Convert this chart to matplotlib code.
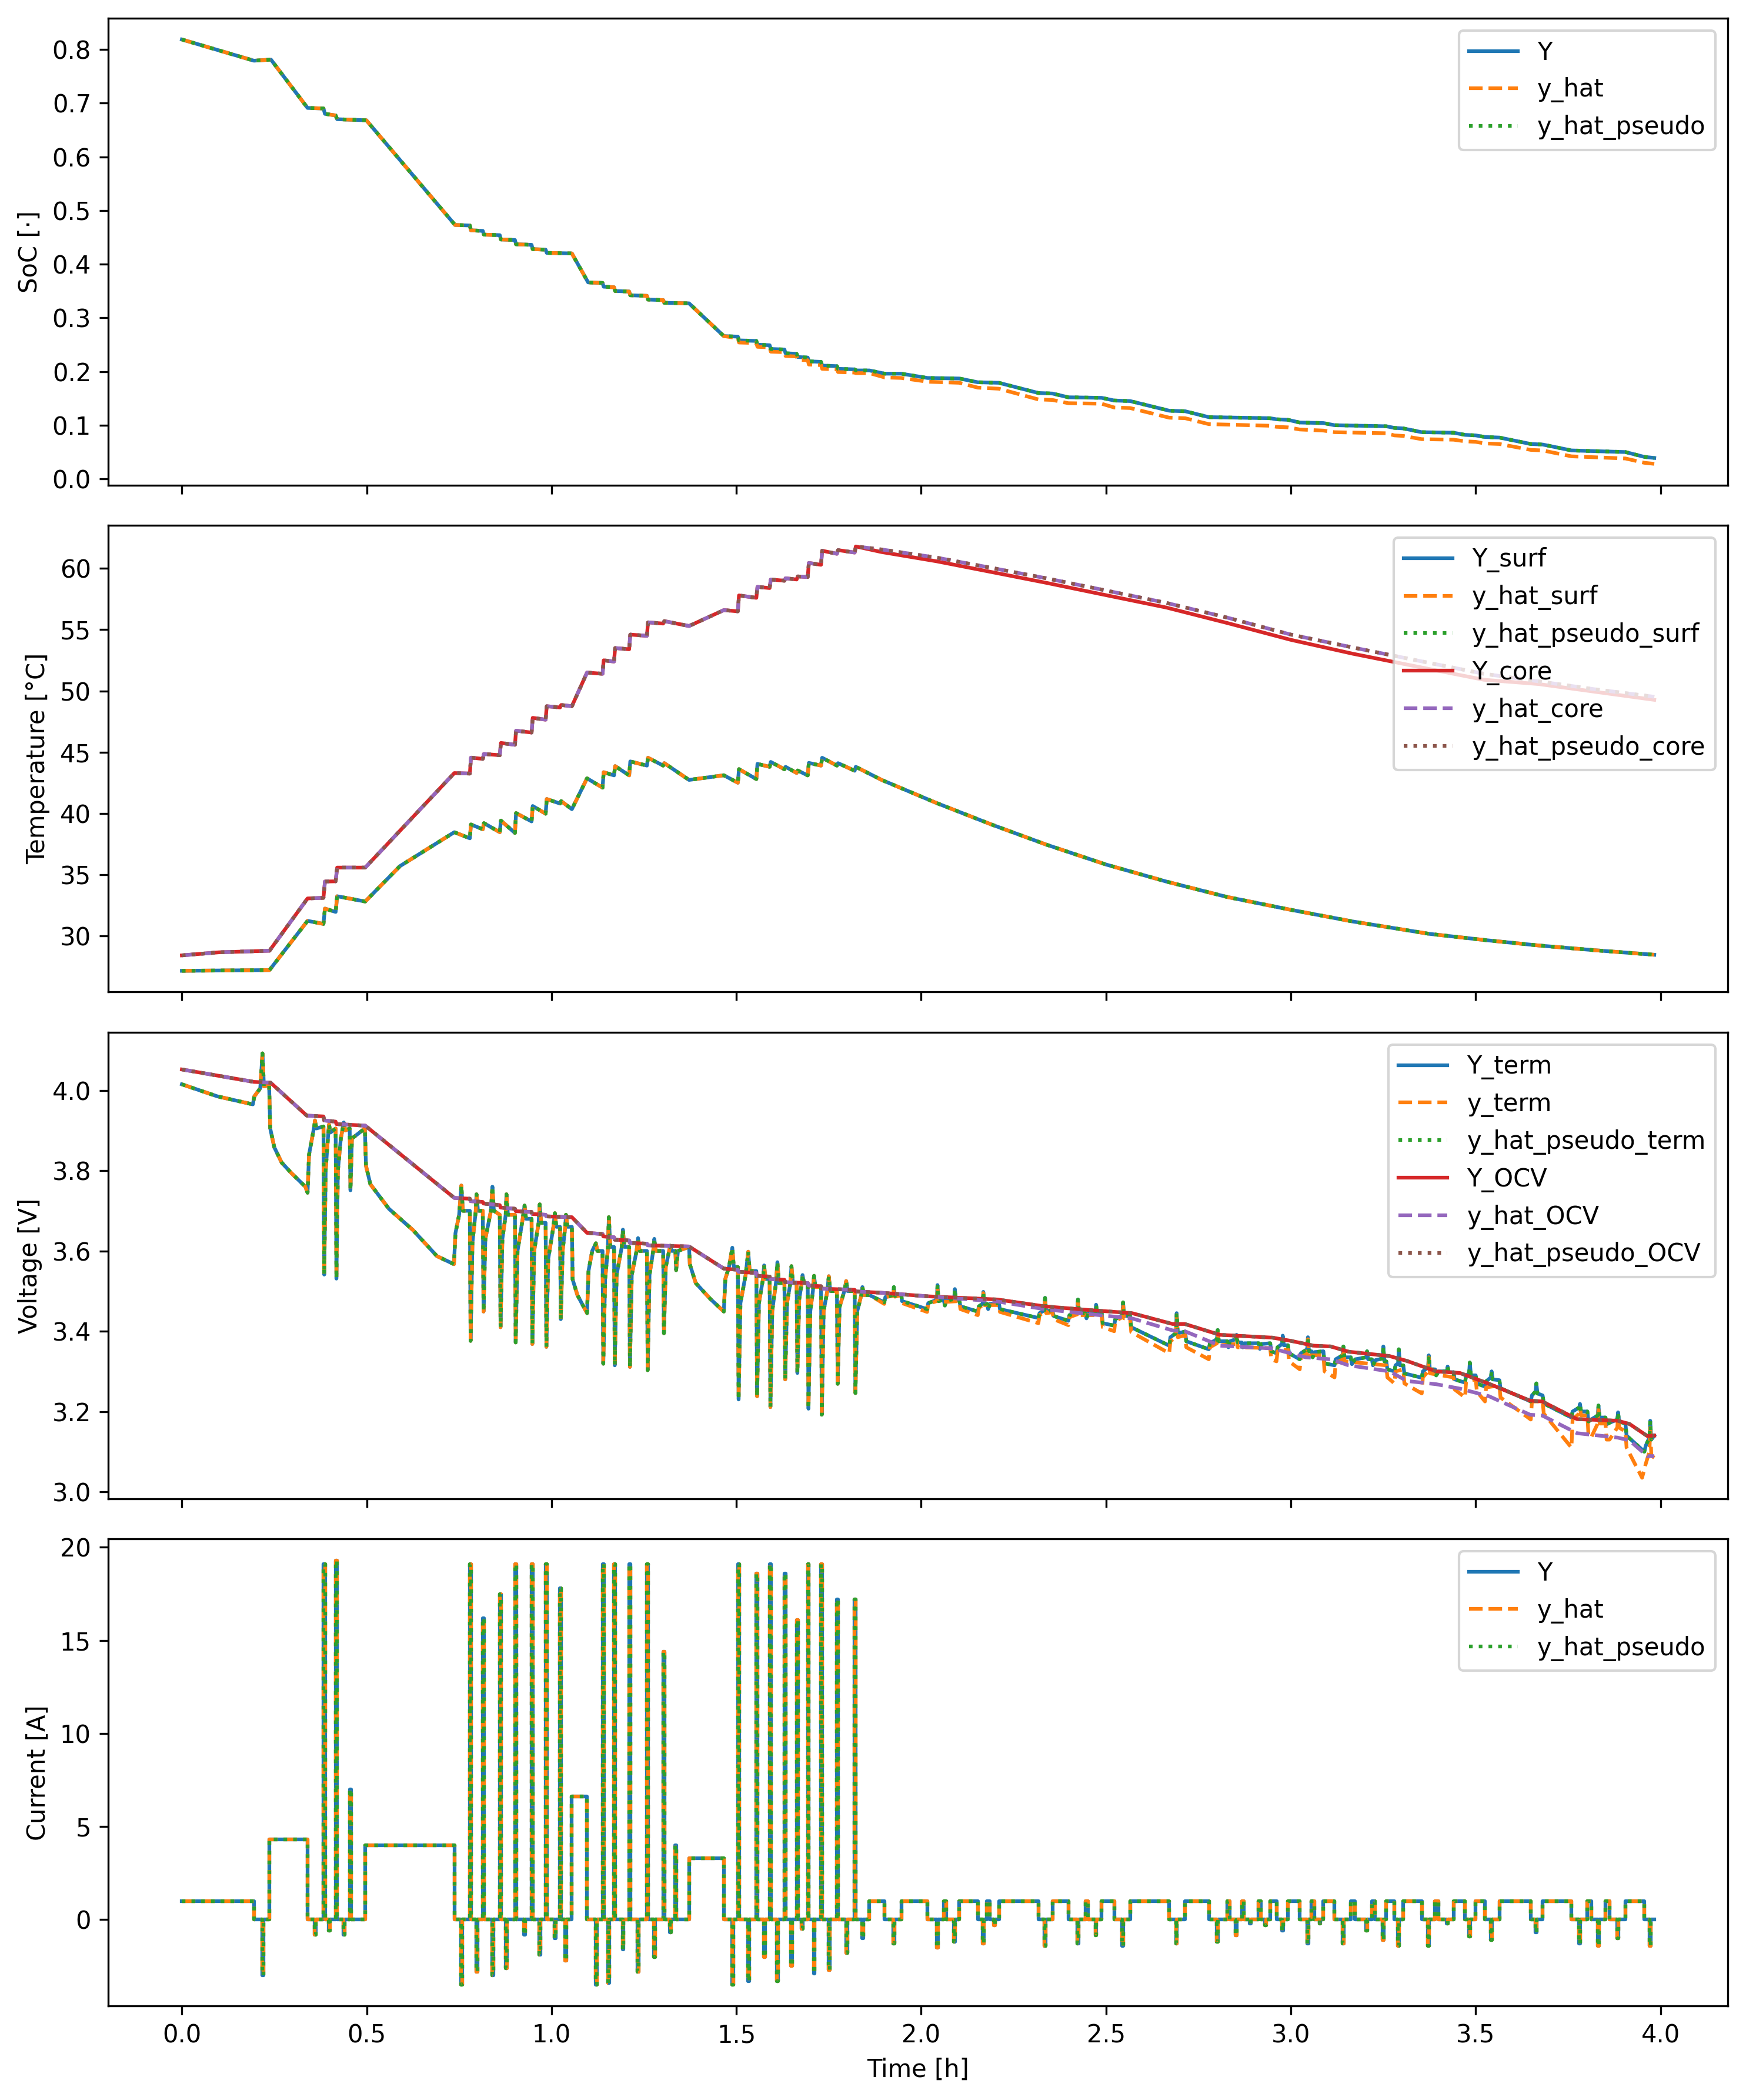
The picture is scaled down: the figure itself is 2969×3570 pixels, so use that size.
import matplotlib
matplotlib.use("Agg")
import matplotlib.pyplot as plt

# ---- current [A], step profile: (time [h], value from that time on) ----
current_steps = [
    (0.000, 1.0), (0.195, 0.0), (0.217, -3.0), (0.220, 0.0), (0.237, 4.3), (0.340, 0.0),
    (0.359, -0.8), (0.362, 0.0), (0.383, 19.1), (0.387, 0.0), (0.397, -0.6), (0.400, 0.0),
    (0.416, 19.3), (0.420, 0.0), (0.437, -0.8), (0.440, 0.0), (0.454, 7.0), (0.457, 0.0),
    (0.496, 4.0), (0.737, 0.0),
    (0.755, -3.5), (0.758, 0.0), (0.779, 19.1), (0.782, 0.0), (0.796, -2.8), (0.799, 0.0),
    (0.814, 16.2), (0.817, 0.0), (0.839, -3.0), (0.842, 0.0), (0.860, 17.5), (0.863, 0.0),
    (0.876, -2.6), (0.879, 0.0), (0.901, 19.1), (0.904, 0.0), (0.926, -0.8), (0.929, 0.0),
    (0.946, 19.1), (0.949, 0.0), (0.967, -1.9), (0.970, 0.0), (0.984, 19.1), (0.987, 0.0),
    (1.008, -1.0), (1.011, 0.0), (1.023, 17.8), (1.026, 0.0), (1.037, -2.2), (1.040, 0.0),
    (1.055, 6.6), (1.096, 0.0),
    (1.119, -3.5), (1.122, 0.0), (1.138, 19.1), (1.141, 0.0), (1.153, -3.4), (1.156, 0.0),
    (1.169, 19.1), (1.172, 0.0), (1.192, -1.6), (1.195, 0.0), (1.210, 19.1), (1.213, 0.0),
    (1.233, -2.8), (1.236, 0.0), (1.258, 19.1), (1.261, 0.0), (1.277, -2.0), (1.280, 0.0),
    (1.302, 14.4), (1.305, 0.0), (1.320, -0.7), (1.323, 0.0), (1.335, 4.0), (1.338, 0.0),
    (1.372, 3.3), (1.466, 0.0),
    (1.488, -3.5), (1.491, 0.0), (1.504, 19.1), (1.507, 0.0), (1.531, -3.3), (1.534, 0.0),
    (1.554, 18.6), (1.557, 0.0), (1.574, -2.0), (1.577, 0.0), (1.590, 19.1), (1.593, 0.0),
    (1.610, -3.3), (1.613, 0.0), (1.630, 18.6), (1.633, 0.0), (1.648, -2.5), (1.651, 0.0),
    (1.663, 16.1), (1.666, 0.0), (1.677, -0.5), (1.680, 0.0), (1.693, 19.1), (1.696, 0.0),
    (1.709, -2.9), (1.712, 0.0), (1.729, 19.1), (1.732, 0.0), (1.750, -2.7), (1.753, 0.0),
    (1.772, 17.2), (1.775, 0.0), (1.797, -1.8), (1.800, 0.0), (1.820, 17.2), (1.823, 0.0),
    (1.840, -1.0), (1.843, 0.0),
    (1.860, 1.0), (1.901, 0.0), (1.925, -1.3), (1.928, 0.0), (1.946, 1.0), (2.017, 0.0),
    (2.042, -1.5), (2.045, 0.0), (2.061, 1.0), (2.067, 0.0), (2.089, -1.2), (2.092, 0.0),
    (2.103, 1.0), (2.153, 0.0), (2.166, -1.3), (2.169, 0.0), (2.178, 1.0), (2.185, 0.0),
    (2.196, -0.3), (2.199, 0.0), (2.210, 1.0), (2.317, 0.0), (2.333, -1.4), (2.336, 0.0),
    (2.355, 1.0), (2.398, 0.0), (2.422, -1.3), (2.425, 0.0), (2.444, 1.0), (2.451, 0.0),
    (2.471, -0.85), (2.474, 0.0), (2.488, 1.0), (2.522, 0.0), (2.544, -1.4), (2.547, 0.0),
    (2.565, 1.0), (2.671, 0.0), (2.689, -1.3), (2.692, 0.0), (2.714, 1.0), (2.778, 0.0),
    (2.800, -1.2), (2.803, 0.0), (2.828, 1.0), (2.834, 0.0), (2.851, -0.85), (2.854, 0.0),
    (2.867, 1.0), (2.873, 0.0), (2.888, -0.2), (2.891, 0.0), (2.913, 1.0), (2.919, 0.0),
    (2.930, -0.3), (2.933, 0.0), (2.944, 1.0), (2.961, 0.0), (2.976, -0.6), (2.979, 0.0),
    (2.992, 1.0), (3.024, 0.0), (3.044, -1.3), (3.047, 0.0), (3.056, 1.0), (3.063, 0.0),
    (3.077, -0.2), (3.080, 0.0), (3.088, 1.0), (3.118, 0.0), (3.140, -1.3), (3.143, 0.0),
    (3.162, 1.0), (3.173, 0.0), (3.204, -0.6), (3.207, 0.0), (3.219, 1.0), (3.228, 0.0),
    (3.248, -1.1), (3.251, 0.0), (3.258, 1.0), (3.280, 0.0), (3.290, -1.4), (3.293, 0.0),
    (3.304, 1.0), (3.354, 0.0), (3.371, -1.4), (3.374, 0.0), (3.390, 1.0), (3.399, 0.0),
    (3.422, -0.2), (3.425, 0.0), (3.440, 1.0), (3.471, 0.0), (3.482, -0.9), (3.485, 0.0),
    (3.500, 1.0), (3.525, 0.0), (3.541, -1.1), (3.544, 0.0), (3.564, 1.0), (3.649, 0.0),
    (3.662, -0.7), (3.665, 0.0), (3.681, 1.0), (3.759, 0.0), (3.780, -1.3), (3.783, 0.0),
    (3.802, 1.0), (3.812, 0.0), (3.830, -1.4), (3.833, 0.0), (3.851, 1.0), (3.862, 0.0),
    (3.883, -1.0), (3.886, 0.0), (3.905, 1.0), (3.956, 0.0), (3.970, -1.4), (3.973, 0.0),
    (3.983, 0.0),
]

# ---- state of charge [-] ----
soc_common = [
    (0.000, 0.8185), (0.195, 0.779), (0.241, 0.781), (0.340, 0.691), (0.383, 0.690),
    (0.387, 0.680), (0.416, 0.677), (0.420, 0.670), (0.499, 0.668), (0.739, 0.473),
    (0.779, 0.472), (0.782, 0.463), (0.814, 0.462), (0.817, 0.455), (0.860, 0.454),
    (0.863, 0.446), (0.901, 0.445), (0.904, 0.437), (0.946, 0.436), (0.949, 0.428),
    (0.984, 0.427), (0.987, 0.421), (1.055, 0.420), (1.099, 0.366), (1.138, 0.365),
    (1.141, 0.358), (1.169, 0.357), (1.172, 0.350), (1.210, 0.349), (1.213, 0.342),
    (1.258, 0.341), (1.261, 0.334), (1.302, 0.333), (1.305, 0.328), (1.372, 0.327),
    (1.466, 0.266),
]
soc_y_late = [
    (1.504, 0.265), (1.507, 0.258), (1.554, 0.257), (1.557, 0.250), (1.590, 0.249),
    (1.593, 0.242), (1.630, 0.241), (1.633, 0.234), (1.663, 0.233), (1.666, 0.227),
    (1.693, 0.226), (1.696, 0.219), (1.729, 0.218), (1.732, 0.211), (1.772, 0.210),
    (1.775, 0.205), (1.820, 0.204), (1.823, 0.202), (1.860, 0.202), (1.901, 0.196),
    (1.946, 0.196), (2.017, 0.188), (2.103, 0.187), (2.153, 0.180), (2.210, 0.179),
    (2.317, 0.160), (2.355, 0.159), (2.398, 0.152), (2.488, 0.151), (2.522, 0.146),
    (2.565, 0.145), (2.671, 0.127), (2.714, 0.126), (2.778, 0.115), (2.944, 0.113),
    (2.961, 0.111), (2.992, 0.110), (3.024, 0.105), (3.088, 0.104), (3.118, 0.100),
    (3.258, 0.098), (3.280, 0.095), (3.304, 0.094), (3.354, 0.087), (3.440, 0.086),
    (3.471, 0.082), (3.500, 0.081), (3.525, 0.078), (3.564, 0.077), (3.649, 0.065),
    (3.681, 0.064), (3.759, 0.053), (3.905, 0.050), (3.956, 0.041), (3.983, 0.039),
]
soc_hat_late = [
    (1.504, 0.262), (1.507, 0.254), (1.554, 0.253), (1.557, 0.246), (1.590, 0.245),
    (1.593, 0.237), (1.630, 0.236), (1.633, 0.229), (1.663, 0.228), (1.666, 0.222),
    (1.693, 0.221), (1.696, 0.213), (1.729, 0.212), (1.732, 0.205), (1.772, 0.204),
    (1.775, 0.199), (1.820, 0.198), (1.823, 0.197), (1.860, 0.197), (1.901, 0.189),
    (1.946, 0.188), (2.017, 0.181), (2.103, 0.179), (2.153, 0.170), (2.210, 0.168),
    (2.317, 0.148), (2.355, 0.147), (2.398, 0.141), (2.488, 0.140), (2.522, 0.133),
    (2.565, 0.132), (2.671, 0.114), (2.714, 0.113), (2.778, 0.102), (2.944, 0.099),
    (2.961, 0.097), (2.992, 0.096), (3.024, 0.092), (3.088, 0.090), (3.118, 0.087),
    (3.258, 0.085), (3.280, 0.081), (3.304, 0.080), (3.354, 0.074), (3.440, 0.073),
    (3.471, 0.070), (3.500, 0.069), (3.525, 0.066), (3.564, 0.065), (3.649, 0.054),
    (3.681, 0.053), (3.759, 0.042), (3.905, 0.038), (3.956, 0.030), (3.983, 0.028),
]

# ---- temperatures [degC] ----
temp_surf = [
    (0.000, 27.14), (0.237, 27.20), (0.340, 31.22), (0.383, 30.97), (0.387, 32.22),
    (0.416, 31.95), (0.420, 33.23), (0.496, 32.80), (0.590, 35.69), (0.737, 38.46),
    (0.779, 37.96), (0.782, 39.09), (0.814, 38.70), (0.817, 39.20), (0.860, 38.46),
    (0.863, 39.41), (0.901, 38.40), (0.904, 40.02), (0.946, 39.34), (0.949, 40.60),
    (0.984, 39.97), (0.987, 41.17), (1.023, 40.80), (1.026, 41.00), (1.055, 40.34),
    (1.096, 42.86), (1.138, 42.10), (1.141, 43.36), (1.169, 43.10), (1.172, 43.86),
    (1.210, 43.10), (1.213, 44.24), (1.258, 43.90), (1.261, 44.54), (1.302, 43.90),
    (1.305, 44.10), (1.372, 42.73), (1.466, 43.11), (1.504, 42.50), (1.507, 43.61),
    (1.554, 42.80), (1.557, 44.04), (1.590, 43.80), (1.593, 44.20), (1.630, 43.60),
    (1.633, 43.80), (1.663, 43.30), (1.666, 43.50), (1.693, 43.10), (1.696, 44.12),
    (1.729, 43.90), (1.732, 44.54), (1.772, 43.90), (1.775, 44.10), (1.820, 43.48),
    (1.823, 43.80), (1.893, 42.73), (2.041, 40.85), (2.190, 39.09), (2.338, 37.45),
    (2.500, 35.82), (2.663, 34.43), (2.826, 33.18), (3.000, 32.12), (3.167, 31.17),
    (3.374, 30.16), (3.522, 29.66), (3.670, 29.21), (3.818, 28.83), (3.983, 28.45),
]
temp_core = [
    (0.000, 28.40), (0.100, 28.65), (0.237, 28.78), (0.340, 33.05), (0.383, 33.10),
    (0.387, 34.43), (0.416, 34.45), (0.420, 35.57), (0.496, 35.57), (0.737, 43.29),
    (0.779, 43.25), (0.782, 44.55), (0.814, 44.45), (0.817, 44.85), (0.860, 44.75),
    (0.863, 45.75), (0.901, 45.60), (0.904, 46.75), (0.946, 46.60), (0.949, 47.80),
    (0.984, 47.65), (0.987, 48.75), (1.023, 48.65), (1.026, 48.85), (1.055, 48.75),
    (1.096, 51.50), (1.138, 51.40), (1.141, 52.50), (1.169, 52.40), (1.172, 53.50),
    (1.210, 53.40), (1.213, 54.60), (1.258, 54.50), (1.261, 55.60), (1.302, 55.50),
    (1.305, 55.70), (1.372, 55.30), (1.466, 56.60), (1.504, 56.50), (1.507, 57.80),
    (1.554, 57.60), (1.557, 58.50), (1.590, 58.40), (1.593, 59.10), (1.630, 59.00),
    (1.633, 59.20), (1.663, 59.10), (1.666, 59.35), (1.693, 59.30), (1.696, 60.45),
    (1.729, 60.30), (1.732, 61.45), (1.772, 61.20), (1.775, 61.50), (1.820, 61.30),
    (1.823, 61.80),
]
temp_core_y_late = [
    (1.893, 61.34), (2.041, 60.59), (2.190, 59.71), (2.338, 58.83), (2.500, 57.82),
    (2.663, 56.81), (2.826, 55.56), (3.000, 54.17), (3.167, 53.04), (3.374, 51.79),
    (3.522, 50.91), (3.670, 50.56), (3.818, 49.95), (3.983, 49.27),
]
temp_core_hat_late = [
    (1.893, 61.55), (2.041, 60.89), (2.190, 60.05), (2.338, 59.20), (2.500, 58.20),
    (2.663, 57.19), (2.826, 56.00), (3.000, 54.60), (3.167, 53.55), (3.374, 52.29),
    (3.522, 51.40), (3.670, 50.78), (3.818, 50.15), (3.983, 49.52),
]

# ---- voltages [V] ----
v_term_common = [
    (0.000, 4.015), (0.096, 3.985), (0.192, 3.965), (0.196, 3.985), (0.212, 4.005),
    (0.218, 4.092), (0.222, 4.010), (0.236, 4.012), (0.239, 3.905), (0.250, 3.858),
    (0.270, 3.820), (0.295, 3.795), (0.334, 3.760), (0.340, 3.745), (0.344, 3.840),
    (0.352, 3.880), (0.358, 3.910), (0.360, 3.925), (0.364, 3.905), (0.383, 3.910),
    (0.385, 3.541), (0.389, 3.800), (0.395, 3.880), (0.398, 3.915), (0.402, 3.895),
    (0.416, 3.905), (0.418, 3.531), (0.422, 3.800), (0.430, 3.880), (0.438, 3.920),
    (0.442, 3.900), (0.454, 3.905), (0.456, 3.751), (0.460, 3.880), (0.495, 3.905),
    (0.498, 3.812), (0.510, 3.766), (0.560, 3.705), (0.625, 3.652), (0.690, 3.587),
    (0.736, 3.567), (0.740, 3.644), (0.750, 3.690), (0.756, 3.763), (0.760, 3.700),
    (0.779, 3.700), (0.781, 3.376), (0.786, 3.620), (0.795, 3.700), (0.797, 3.741),
    (0.801, 3.700), (0.814, 3.700), (0.816, 3.449), (0.821, 3.630), (0.836, 3.700),
    (0.840, 3.760), (0.844, 3.700), (0.860, 3.690), (0.862, 3.410), (0.867, 3.630),
    (0.876, 3.690), (0.878, 3.741), (0.882, 3.690), (0.901, 3.690), (0.903, 3.372),
    (0.908, 3.600), (0.922, 3.680), (0.927, 3.713), (0.931, 3.680), (0.946, 3.680),
    (0.948, 3.368), (0.953, 3.600), (0.965, 3.670), (0.968, 3.716), (0.972, 3.670),
    (0.984, 3.670), (0.986, 3.361), (0.991, 3.580), (1.005, 3.660), (1.009, 3.694),
    (1.013, 3.660), (1.023, 3.660), (1.025, 3.430), (1.030, 3.600), (1.037, 3.660),
    (1.039, 3.690), (1.043, 3.660), (1.055, 3.660), (1.057, 3.529), (1.070, 3.490),
    (1.096, 3.445), (1.100, 3.550), (1.110, 3.600), (1.120, 3.619), (1.124, 3.600),
    (1.138, 3.600), (1.140, 3.319), (1.145, 3.530), (1.152, 3.600), (1.155, 3.684),
    (1.159, 3.610), (1.169, 3.610), (1.171, 3.315), (1.176, 3.540), (1.190, 3.610),
    (1.193, 3.653), (1.197, 3.610), (1.210, 3.610), (1.212, 3.311), (1.217, 3.540),
    (1.230, 3.600), (1.234, 3.632), (1.238, 3.600), (1.258, 3.600), (1.260, 3.303),
    (1.265, 3.540), (1.275, 3.600), (1.278, 3.630), (1.282, 3.600), (1.302, 3.600),
    (1.304, 3.395), (1.309, 3.560), (1.318, 3.600), (1.321, 3.613), (1.325, 3.600),
    (1.335, 3.600), (1.337, 3.552), (1.342, 3.600), (1.372, 3.610), (1.374, 3.567),
    (1.390, 3.520), (1.430, 3.480), (1.466, 3.449), (1.470, 3.530), (1.480, 3.560),
    (1.489, 3.608), (1.493, 3.560), (1.504, 3.560), (1.506, 3.230), (1.511, 3.470),
    (1.525, 3.540), (1.532, 3.598), (1.536, 3.550), (1.554, 3.550), (1.556, 3.238),
    (1.561, 3.470), (1.572, 3.530), (1.575, 3.564), (1.579, 3.530), (1.590, 3.530),
    (1.592, 3.211), (1.597, 3.450), (1.607, 3.520), (1.611, 3.572), (1.615, 3.520),
    (1.630, 3.520), (1.632, 3.280), (1.637, 3.470), (1.646, 3.520), (1.649, 3.562),
    (1.653, 3.520), (1.663, 3.520), (1.665, 3.296), (1.670, 3.480), (1.677, 3.520),
    (1.679, 3.540), (1.683, 3.520), (1.693, 3.520), (1.695, 3.207), (1.700, 3.450),
    (1.707, 3.500), (1.710, 3.538), (1.714, 3.510), (1.729, 3.510), (1.731, 3.192),
    (1.736, 3.450), (1.746, 3.500), (1.750, 3.537), (1.754, 3.500), (1.772, 3.500),
    (1.774, 3.269), (1.779, 3.460), (1.792, 3.500), (1.797, 3.525), (1.801, 3.500),
    (1.820, 3.500), (1.822, 3.246), (1.827, 3.450), (1.838, 3.490), (1.841, 3.510),
    (1.845, 3.490),
]
v_term_y_late = [
    (1.860, 3.490), (1.900, 3.472), (1.903, 3.485), (1.925, 3.490), (1.926, 3.510),
    (1.929, 3.488), (1.946, 3.492), (1.948, 3.475), (2.016, 3.455), (2.019, 3.470),
    (2.042, 3.478), (2.044, 3.515), (2.047, 3.475), (2.061, 3.478), (2.064, 3.464),
    (2.068, 3.476), (2.089, 3.480), (2.091, 3.505), (2.094, 3.478), (2.103, 3.478),
    (2.106, 3.462), (2.153, 3.449), (2.156, 3.462), (2.166, 3.468), (2.168, 3.498),
    (2.171, 3.468), (2.178, 3.468), (2.181, 3.455), (2.186, 3.468), (2.210, 3.470),
    (2.213, 3.455), (2.317, 3.433), (2.320, 3.445), (2.333, 3.452), (2.335, 3.483),
    (2.338, 3.450), (2.355, 3.452), (2.358, 3.438), (2.398, 3.426), (2.401, 3.440),
    (2.422, 3.447), (2.424, 3.479), (2.427, 3.445), (2.444, 3.445), (2.447, 3.432),
    (2.452, 3.444), (2.471, 3.449), (2.473, 3.466), (2.476, 3.447), (2.488, 3.447),
    (2.491, 3.420), (2.522, 3.414), (2.525, 3.430), (2.544, 3.440), (2.546, 3.472),
    (2.549, 3.438), (2.565, 3.438), (2.568, 3.410), (2.671, 3.364), (2.674, 3.385),
    (2.689, 3.395), (2.691, 3.445), (2.694, 3.395), (2.714, 3.399), (2.717, 3.375),
    (2.778, 3.355), (2.781, 3.370), (2.800, 3.380), (2.802, 3.403), (2.805, 3.375),
    (2.828, 3.375), (2.831, 3.360), (2.835, 3.375), (2.851, 3.380), (2.853, 3.391),
    (2.856, 3.372), (2.867, 3.372), (2.870, 3.360), (2.874, 3.370), (2.913, 3.370),
    (2.916, 3.356), (2.920, 3.368), (2.944, 3.370), (2.947, 3.350), (2.961, 3.345),
    (2.964, 3.360), (2.976, 3.368), (2.978, 3.389), (2.981, 3.365), (2.992, 3.365),
    (2.995, 3.345), (3.024, 3.330), (3.027, 3.345), (3.044, 3.355), (3.046, 3.385),
    (3.049, 3.350), (3.056, 3.350), (3.059, 3.335), (3.064, 3.348), (3.088, 3.350),
    (3.091, 3.320), (3.118, 3.315), (3.121, 3.330), (3.140, 3.340), (3.142, 3.362),
    (3.145, 3.335), (3.162, 3.335), (3.165, 3.318), (3.174, 3.330), (3.204, 3.335),
    (3.206, 3.350), (3.209, 3.330), (3.219, 3.330), (3.222, 3.315), (3.229, 3.328),
    (3.248, 3.332), (3.250, 3.362), (3.253, 3.325), (3.258, 3.325), (3.261, 3.305),
    (3.280, 3.300), (3.283, 3.315), (3.290, 3.320), (3.292, 3.355), (3.295, 3.315),
    (3.304, 3.315), (3.307, 3.295), (3.354, 3.284), (3.357, 3.300), (3.371, 3.310),
    (3.373, 3.340), (3.376, 3.305), (3.390, 3.305), (3.393, 3.290), (3.400, 3.300),
    (3.422, 3.300), (3.424, 3.312), (3.427, 3.298), (3.440, 3.298), (3.443, 3.280),
    (3.471, 3.272), (3.474, 3.290), (3.482, 3.295), (3.484, 3.322), (3.487, 3.290),
    (3.500, 3.290), (3.503, 3.270), (3.525, 3.262), (3.528, 3.275), (3.541, 3.285),
    (3.543, 3.300), (3.546, 3.280), (3.564, 3.278), (3.567, 3.258), (3.649, 3.225),
    (3.652, 3.240), (3.662, 3.250), (3.664, 3.270), (3.667, 3.245), (3.681, 3.240),
    (3.684, 3.220), (3.759, 3.185), (3.762, 3.200), (3.780, 3.210), (3.782, 3.219),
    (3.785, 3.200), (3.802, 3.200), (3.805, 3.175), (3.812, 3.180), (3.830, 3.190),
    (3.832, 3.215), (3.835, 3.185), (3.851, 3.185), (3.854, 3.168), (3.862, 3.172),
    (3.883, 3.180), (3.885, 3.198), (3.888, 3.175), (3.905, 3.170), (3.908, 3.140),
    (3.956, 3.100), (3.960, 3.115), (3.970, 3.135), (3.972, 3.177), (3.975, 3.130),
    (3.983, 3.140),
]
v_term_hat_late = [
    (1.860, 3.490), (1.900, 3.468), (1.903, 3.485), (1.925, 3.488), (1.926, 3.508),
    (1.929, 3.486), (1.946, 3.490), (1.948, 3.470), (2.016, 3.448), (2.019, 3.468),
    (2.042, 3.475), (2.044, 3.510), (2.047, 3.472), (2.103, 3.475), (2.106, 3.455),
    (2.153, 3.440), (2.156, 3.458), (2.166, 3.465), (2.168, 3.495), (2.171, 3.465),
    (2.210, 3.465), (2.213, 3.448), (2.317, 3.420), (2.320, 3.440), (2.333, 3.448),
    (2.335, 3.478), (2.338, 3.445), (2.355, 3.447), (2.358, 3.430), (2.398, 3.415),
    (2.401, 3.435), (2.422, 3.442), (2.424, 3.475), (2.427, 3.440), (2.488, 3.440),
    (2.491, 3.410), (2.522, 3.400), (2.525, 3.425), (2.544, 3.435), (2.546, 3.468),
    (2.549, 3.432), (2.565, 3.432), (2.568, 3.398), (2.671, 3.345), (2.674, 3.375),
    (2.689, 3.385), (2.691, 3.440), (2.694, 3.385), (2.714, 3.390), (2.717, 3.360),
    (2.778, 3.330), (2.781, 3.360), (2.800, 3.370), (2.802, 3.400), (2.805, 3.365),
    (2.851, 3.368), (2.853, 3.385), (2.856, 3.360), (2.944, 3.358), (2.947, 3.330),
    (2.961, 3.325), (2.964, 3.350), (2.992, 3.355), (2.995, 3.325), (3.024, 3.305),
    (3.027, 3.335), (3.044, 3.345), (3.046, 3.380), (3.049, 3.340), (3.088, 3.340),
    (3.091, 3.300), (3.118, 3.285), (3.121, 3.320), (3.140, 3.330), (3.142, 3.355),
    (3.145, 3.325), (3.258, 3.315), (3.261, 3.285), (3.280, 3.270), (3.283, 3.300),
    (3.304, 3.305), (3.307, 3.270), (3.354, 3.245), (3.357, 3.285), (3.371, 3.300),
    (3.373, 3.335), (3.376, 3.295), (3.440, 3.285), (3.443, 3.255), (3.471, 3.235),
    (3.474, 3.275), (3.500, 3.280), (3.503, 3.250), (3.525, 3.225), (3.528, 3.260),
    (3.564, 3.265), (3.567, 3.235), (3.649, 3.180), (3.652, 3.225), (3.681, 3.225),
    (3.684, 3.195), (3.759, 3.110), (3.762, 3.180), (3.780, 3.195), (3.782, 3.210),
    (3.785, 3.190), (3.802, 3.190), (3.805, 3.140), (3.812, 3.135), (3.830, 3.170),
    (3.832, 3.205), (3.835, 3.170), (3.851, 3.170), (3.854, 3.130), (3.862, 3.130),
    (3.883, 3.160), (3.885, 3.190), (3.888, 3.160), (3.905, 3.150), (3.908, 3.110),
    (3.950, 3.035), (3.960, 3.070), (3.970, 3.100), (3.972, 3.160), (3.975, 3.090),
    (3.983, 3.085),
]
v_ocv_common = [
    (0.000, 4.052), (0.195, 4.021), (0.240, 4.019), (0.338, 3.937), (0.383, 3.935),
    (0.385, 3.925), (0.416, 3.922), (0.418, 3.916), (0.496, 3.912), (0.737, 3.732),
    (0.779, 3.730), (0.781, 3.724), (0.814, 3.722), (0.816, 3.718), (0.860, 3.714),
    (0.862, 3.708), (0.901, 3.705), (0.903, 3.699), (0.946, 3.697), (0.948, 3.692),
    (0.984, 3.690), (0.986, 3.686), (1.055, 3.684), (1.096, 3.645), (1.138, 3.642),
    (1.140, 3.636), (1.169, 3.634), (1.171, 3.628), (1.210, 3.626), (1.212, 3.620),
    (1.258, 3.618), (1.260, 3.614), (1.372, 3.611), (1.466, 3.556), (1.504, 3.553),
    (1.506, 3.548), (1.554, 3.545), (1.556, 3.538), (1.590, 3.536), (1.592, 3.530),
    (1.630, 3.528), (1.632, 3.522), (1.693, 3.520), (1.695, 3.514), (1.729, 3.512),
    (1.731, 3.506), (1.820, 3.503), (1.822, 3.499), (1.889, 3.496), (2.016, 3.487),
]
v_ocv_y_late = [
    (2.206, 3.479), (2.333, 3.462), (2.450, 3.453), (2.570, 3.445), (2.680, 3.418),
    (2.713, 3.418), (2.808, 3.391), (2.950, 3.384), (3.000, 3.376), (3.061, 3.364),
    (3.108, 3.362), (3.156, 3.349), (3.267, 3.338), (3.314, 3.326), (3.393, 3.300),
    (3.457, 3.296), (3.536, 3.269), (3.647, 3.227), (3.680, 3.225), (3.774, 3.181),
    (3.884, 3.177), (3.916, 3.169), (3.964, 3.139), (3.983, 3.140),
]
v_ocv_hat_late = [
    (2.206, 3.474), (2.333, 3.455), (2.450, 3.443), (2.570, 3.432), (2.680, 3.402),
    (2.713, 3.400), (2.808, 3.364), (2.950, 3.357), (3.040, 3.335), (3.108, 3.330),
    (3.156, 3.315), (3.267, 3.300), (3.314, 3.276), (3.393, 3.268), (3.457, 3.257),
    (3.536, 3.238), (3.647, 3.192), (3.680, 3.190), (3.774, 3.146), (3.884, 3.135),
    (3.916, 3.128), (3.964, 3.089), (3.983, 3.089),
]


def xy(points):
    t, v = zip(*points)
    return list(t), list(v)


fig, axes = plt.subplots(4, 1, figsize=(9.897, 11.9), dpi=300, sharex=True)
fig.subplots_adjust(left=0.062, right=0.9896, top=0.9913, bottom=0.0448, hspace=0.086)

# SoC
ax = axes[0]
t, v = xy(soc_common + soc_y_late)
ax.plot(t, v, color="C0", linestyle="-", label="Y")
t, v = xy(soc_common + soc_hat_late)
ax.plot(t, v, color="C1", linestyle="--", label="y_hat")
t, v = xy(soc_common + soc_y_late)
ax.plot(t, v, color="C2", linestyle=":", label="y_hat_pseudo")
ax.set_ylabel("SoC [\u00b7]")
ax.legend(loc="upper right")

# Temperature
ax = axes[1]
t, v = xy(temp_surf)
ax.plot(t, v, color="C0", linestyle="-", label="Y_surf")
ax.plot(t, v, color="C1", linestyle="--", label="y_hat_surf")
ax.plot(t, v, color="C2", linestyle=":", label="y_hat_pseudo_surf")
t, v = xy(temp_core + temp_core_y_late)
ax.plot(t, v, color="C3", linestyle="-", label="Y_core")
t, v = xy(temp_core + temp_core_hat_late)
ax.plot(t, v, color="C4", linestyle="--", label="y_hat_core")
ax.plot(t, v, color="C5", linestyle=":", label="y_hat_pseudo_core")
ax.set_ylabel("Temperature [\u00b0C]")
ax.legend(loc="upper right")

# Voltage
ax = axes[2]
t, v = xy(v_term_common + v_term_y_late)
ax.plot(t, v, color="C0", linestyle="-", label="Y_term")
t2, v2 = xy(v_term_common + v_term_hat_late)
ax.plot(t2, v2, color="C1", linestyle="--", label="y_term")
ax.plot(t, v, color="C2", linestyle=":", label="y_hat_pseudo_term")
t, v = xy(v_ocv_common + v_ocv_y_late)
ax.plot(t, v, color="C3", linestyle="-", label="Y_OCV")
t2, v2 = xy(v_ocv_common + v_ocv_hat_late)
ax.plot(t2, v2, color="C4", linestyle="--", label="y_hat_OCV")
ax.plot(t, v, color="C5", linestyle=":", label="y_hat_pseudo_OCV")
ax.set_ylabel("Voltage [V]")
ax.legend(loc="upper right")

# Current
ax = axes[3]
t, v = xy(current_steps)
ax.plot(t, v, color="C0", linestyle="-", drawstyle="steps-post", label="Y")
ax.plot(t, v, color="C1", linestyle="--", drawstyle="steps-post", label="y_hat")
ax.plot(t, v, color="C2", linestyle=":", drawstyle="steps-post", label="y_hat_pseudo")
ax.set_ylabel("Current [A]")
ax.set_xlabel("Time [h]")
ax.legend(loc="upper right")

fig.savefig("out.png", dpi=300)
